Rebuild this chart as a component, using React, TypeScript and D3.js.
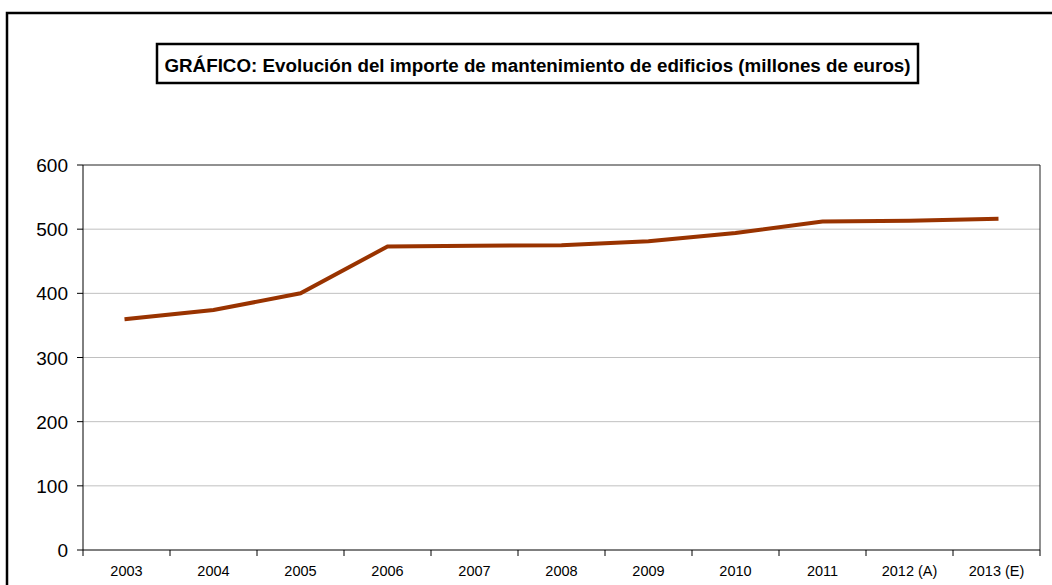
import React from "react";
import * as d3 from "d3";

const categories = ["2003", "2004", "2005", "2006", "2007", "2008", "2009", "2010", "2011", "2012 (A)", "2013 (E)"];
const values = [360, 374, 400, 473, 474, 475, 481, 494, 512, 513, 516];
const yTicks = [0, 100, 200, 300, 400, 500, 600];
const title = "GRÁFICO: Evolución del importe de mantenimiento de edificios (millones de euros)";

export default function App() {
  const W = 1052, H = 585;
  const left = 83, right = 1040, top = 165, bottom = 550;
  const x = d3.scaleBand<string>().domain(categories).range([left, right]).paddingInner(0).paddingOuter(0);
  const y = d3.scaleLinear().domain([0, 600]).range([bottom, top]);
  const line = d3.line<number>()
    .x((_, i) => (x(categories[i]) as number) + x.bandwidth() / 2)
    .y((d) => y(d));
  const font = "'Liberation Sans', Arial, sans-serif";
  return (
    <div style={{ position: "fixed", left: 0, top: 0 }}>
      <svg width={W} height={H} style={{ display: "block", background: "#fff" }}>
        <rect x={7} y={13} width={W + 20} height={H + 20} fill="none" stroke="#000" strokeWidth={2.5} />
        <rect x={157} y={44} width={761} height={39} fill="#fff" stroke="#000" strokeWidth={2.5} />
        <text x={537.5} y={72} textAnchor="middle" fontFamily={font} fontWeight="bold" fontSize={18.8} fill="#000">{title}</text>
        {yTicks.map((t) => (
          <g key={t}>
            {t > 0 && t < 600 && (
              <line x1={left} x2={right} y1={y(t)} y2={y(t)} stroke="#c0c0c0" strokeWidth={1} />
            )}
            <line x1={left - 6} x2={left} y1={y(t)} y2={y(t)} stroke="#000" strokeWidth={1} />
            <text x={68} y={y(t) + 7} textAnchor="end" fontFamily={font} fontSize={19} fill="#000">{t}</text>
          </g>
        ))}
        <line x1={left} x2={right} y1={top} y2={top} stroke="#222" strokeWidth={1} />
        <line x1={right} x2={right} y1={top} y2={bottom} stroke="#222" strokeWidth={1} />
        <line x1={left} x2={left} y1={top} y2={bottom} stroke="#000" strokeWidth={1} />
        <line x1={left} x2={right} y1={bottom} y2={bottom} stroke="#000" strokeWidth={1} />
        {categories.map((c, i) => (
          <line key={"t" + i} x1={(x(c) as number)} x2={(x(c) as number)} y1={bottom} y2={bottom + 6} stroke="#000" strokeWidth={1} />
        ))}
        <line x1={right} x2={right} y1={bottom} y2={bottom + 6} stroke="#000" strokeWidth={1} />
        {categories.map((c) => (
          <text key={c} x={(x(c) as number) + x.bandwidth() / 2} y={576} textAnchor="middle" fontFamily={font} fontSize={14.5} fill="#000">{c}</text>
        ))}
        <path d={line(values) || ""} fill="none" stroke="#993300" strokeWidth={4} strokeLinejoin="miter" strokeLinecap="square" />
      </svg>
    </div>
  );
}
